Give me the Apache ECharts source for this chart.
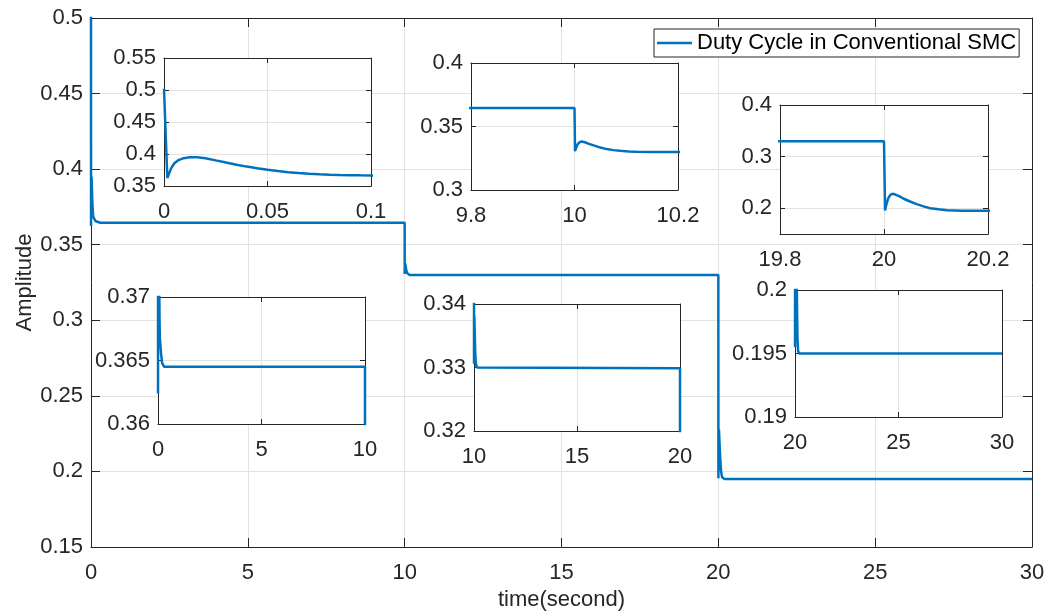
<!DOCTYPE html>
<html>
<head>
<meta charset="utf-8">
<script src="https://cdn.jsdelivr.net/npm/echarts@6/dist/echarts.min.js"></script>
<style>
html,body{margin:0;padding:0;background:#fff;}
#chart{width:1061px;height:616px;}
</style>
</head>
<body>
<div id="chart"></div>
<script>
// ---- data (time in seconds, duty cycle) ----
var timeSec = [0, 0.0016, 0.0025, 0.0035, 0.005, 0.007, 0.0095, 0.0125, 0.016, 0.02, 0.025, 0.03, 0.035, 0.04, 0.045,
  0.05, 0.055, 0.06, 0.065, 0.07, 0.075, 0.08, 0.085, 0.09, 0.095, 0.1, 0.15, 0.2, 0.3,
  10, 10.001, 10.003, 10.006, 10.010, 10.014, 10.020, 10.028, 10.037, 10.050, 10.062, 10.075, 10.088, 10.105, 10.12, 10.15, 10.2,
  20, 20.002, 20.004, 20.008, 20.012, 20.016, 20.022, 20.030, 20.037, 20.050, 20.063, 20.076, 20.089, 20.105, 20.121, 20.15, 20.2, 30];
var duty = [0.502, 0.3624, 0.370, 0.378, 0.3855, 0.3905, 0.3935, 0.3950, 0.3950, 0.3935, 0.3900, 0.3866, 0.3833, 0.3803, 0.3777,
  0.3754, 0.3733, 0.3716, 0.3702, 0.3690, 0.3682, 0.3676, 0.3672, 0.3669, 0.3667, 0.3666, 0.3655, 0.3648, 0.3645,
  0.3645, 0.3306, 0.3330, 0.3360, 0.3377, 0.3382, 0.3376, 0.3363, 0.3351, 0.3334, 0.3322, 0.3314, 0.3309, 0.3304, 0.3301, 0.3300, 0.3299,
  0.3299, 0.1955, 0.2050, 0.2190, 0.2255, 0.2279, 0.2265, 0.2228, 0.2188, 0.2130, 0.2078, 0.2035, 0.2000, 0.1978, 0.1961, 0.1952, 0.1950, 0.1950];

var seriesName = 'Duty Cycle in Conventional SMC';
var xAxisTitle = 'time(second)';
var yAxisTitle = 'Amplitude';

// axis ranges: [xMin, xMax, xInterval, yMin, yMax, yInterval]
var mainRange   = [0, 30, 5, 0.15, 0.5, 0.05];
var inset1Range = [0, 0.1, 0.05, 0.35, 0.55, 0.05];
var inset2Range = [9.8, 10.2, 0.2, 0.3, 0.4, 0.05];
var inset3Range = [19.8, 20.2, 0.2, 0.15, 0.4, 0.05];
var inset3YTicks = [0.2, 0.3, 0.4];
var inset4Range = [0, 10, 5, 0.36, 0.37, 0.005];
var inset5Range = [10, 20, 5, 0.32, 0.34, 0.01];
var inset6Range = [20, 30, 5, 0.19, 0.2, 0.005];

var points = timeSec.map(function (t, i) { return [t, duty[i]]; });

var FONT = '"Liberation Sans", Arial, Helvetica, sans-serif';
var AX = '#262626';
var GRID = '#e2e2e2';
var LINE = '#0072BD';

function fmt(v) { return String(parseFloat(Number(v).toFixed(6))); }

var grids = [], xAxes = [], yAxes = [], series = [];

function panel(rect, r, opt) {
  opt = opt || {};
  var gi = grids.length;
  var zl = opt.zlevel || 0;
  var tl = opt.tickLen || 5;
  grids.push({left: rect[0], top: rect[1], width: rect[2], height: rect[3],
    show: true, backgroundColor: '#fff', borderWidth: 0, zlevel: zl, z: 0});
  var xi = xAxes.length, yi = yAxes.length;
  var lineStyle = {color: AX, width: 1};
  var baseX = {gridIndex: gi, type: 'value', min: r[0], max: r[1], interval: r[2], zlevel: zl};
  var baseY = {gridIndex: gi, type: 'value', min: r[3], max: r[4], interval: r[5], zlevel: zl};
  xAxes.push(Object.assign({}, baseX, {
    position: 'bottom',
    axisLine: {show: true, onZero: false, lineStyle: lineStyle},
    axisTick: {show: true, inside: true, length: tl, lineStyle: lineStyle},
    axisLabel: {show: true, margin: 15, fontSize: 22, color: AX, fontFamily: FONT, formatter: fmt},
    splitLine: {show: true, lineStyle: {color: GRID, width: 1}},
    name: opt.xName || '', nameLocation: 'middle', nameGap: 42, nameMoveOverlap: false,
    nameTextStyle: {fontSize: 22, color: AX, fontFamily: FONT}
  }));
  xAxes.push(Object.assign({}, baseX, {
    position: 'top',
    axisLine: {show: true, onZero: false, lineStyle: lineStyle},
    axisTick: {show: true, inside: true, length: tl, lineStyle: lineStyle},
    axisLabel: {show: false}, splitLine: {show: false}
  }));
  var yTick = {show: true, inside: true, length: tl, lineStyle: lineStyle};
  var yLab = {show: true, margin: 8, fontSize: 22, color: AX, fontFamily: FONT, formatter: fmt};
  if (opt.yTicks) { yTick.customValues = opt.yTicks; yLab.customValues = opt.yTicks; }
  yAxes.push(Object.assign({}, baseY, {
    position: 'left',
    axisLine: {show: true, onZero: false, lineStyle: lineStyle},
    axisTick: yTick,
    axisLabel: yLab,
    splitLine: {show: true, lineStyle: {color: GRID, width: 1}},
    name: opt.yName || '', nameLocation: 'middle', nameGap: 55, nameRotate: 90, nameMoveOverlap: false,
    nameTextStyle: {fontSize: 22, color: AX, fontFamily: FONT}
  }));
  var yTick2 = Object.assign({}, yTick);
  yAxes.push(Object.assign({}, baseY, {
    position: 'right',
    axisLine: {show: true, onZero: false, lineStyle: lineStyle},
    axisTick: yTick2,
    axisLabel: {show: false}, splitLine: {show: false}
  }));
  series.push({
    name: opt.sName || ('inset ' + gi),
    type: 'line', xAxisIndex: xi, yAxisIndex: yi,
    data: points, showSymbol: false, symbol: 'none', clip: true,
    lineStyle: {color: LINE, width: 2.5}, itemStyle: {color: LINE},
    animation: false, zlevel: zl, z: 3
  });
}

panel([91, 18, 941, 532], mainRange, {tickLen: 9, xName: xAxisTitle, yName: yAxisTitle, sName: seriesName});
panel([164, 58, 207, 128], inset1Range, {zlevel: 1});
panel([471, 63, 207, 127], inset2Range, {zlevel: 1});
panel([780, 105, 208, 129], inset3Range, {zlevel: 1, yTicks: inset3YTicks});
panel([158, 297, 207, 127], inset4Range, {zlevel: 1});
panel([474, 304, 206, 127], inset5Range, {zlevel: 1});
panel([795, 290, 207, 127], inset6Range, {zlevel: 1});

var chart = echarts.init(document.getElementById('chart'), null, {renderer: 'canvas'});
chart.setOption({
  backgroundColor: '#fff',
  animation: false,
  grid: grids,
  xAxis: xAxes,
  yAxis: yAxes,
  legend: {
    data: [seriesName],
    left: 654, top: 29,
    padding: [3, 3, 3, 3],
    icon: 'rect', itemWidth: 35, itemHeight: 2.5,
    backgroundColor: '#fff', borderColor: AX, borderWidth: 1, borderRadius: 0,
    textStyle: {fontSize: 22, color: '#000', fontFamily: FONT},
    selectedMode: false
  },
  series: series
});
</script>
</body>
</html>
